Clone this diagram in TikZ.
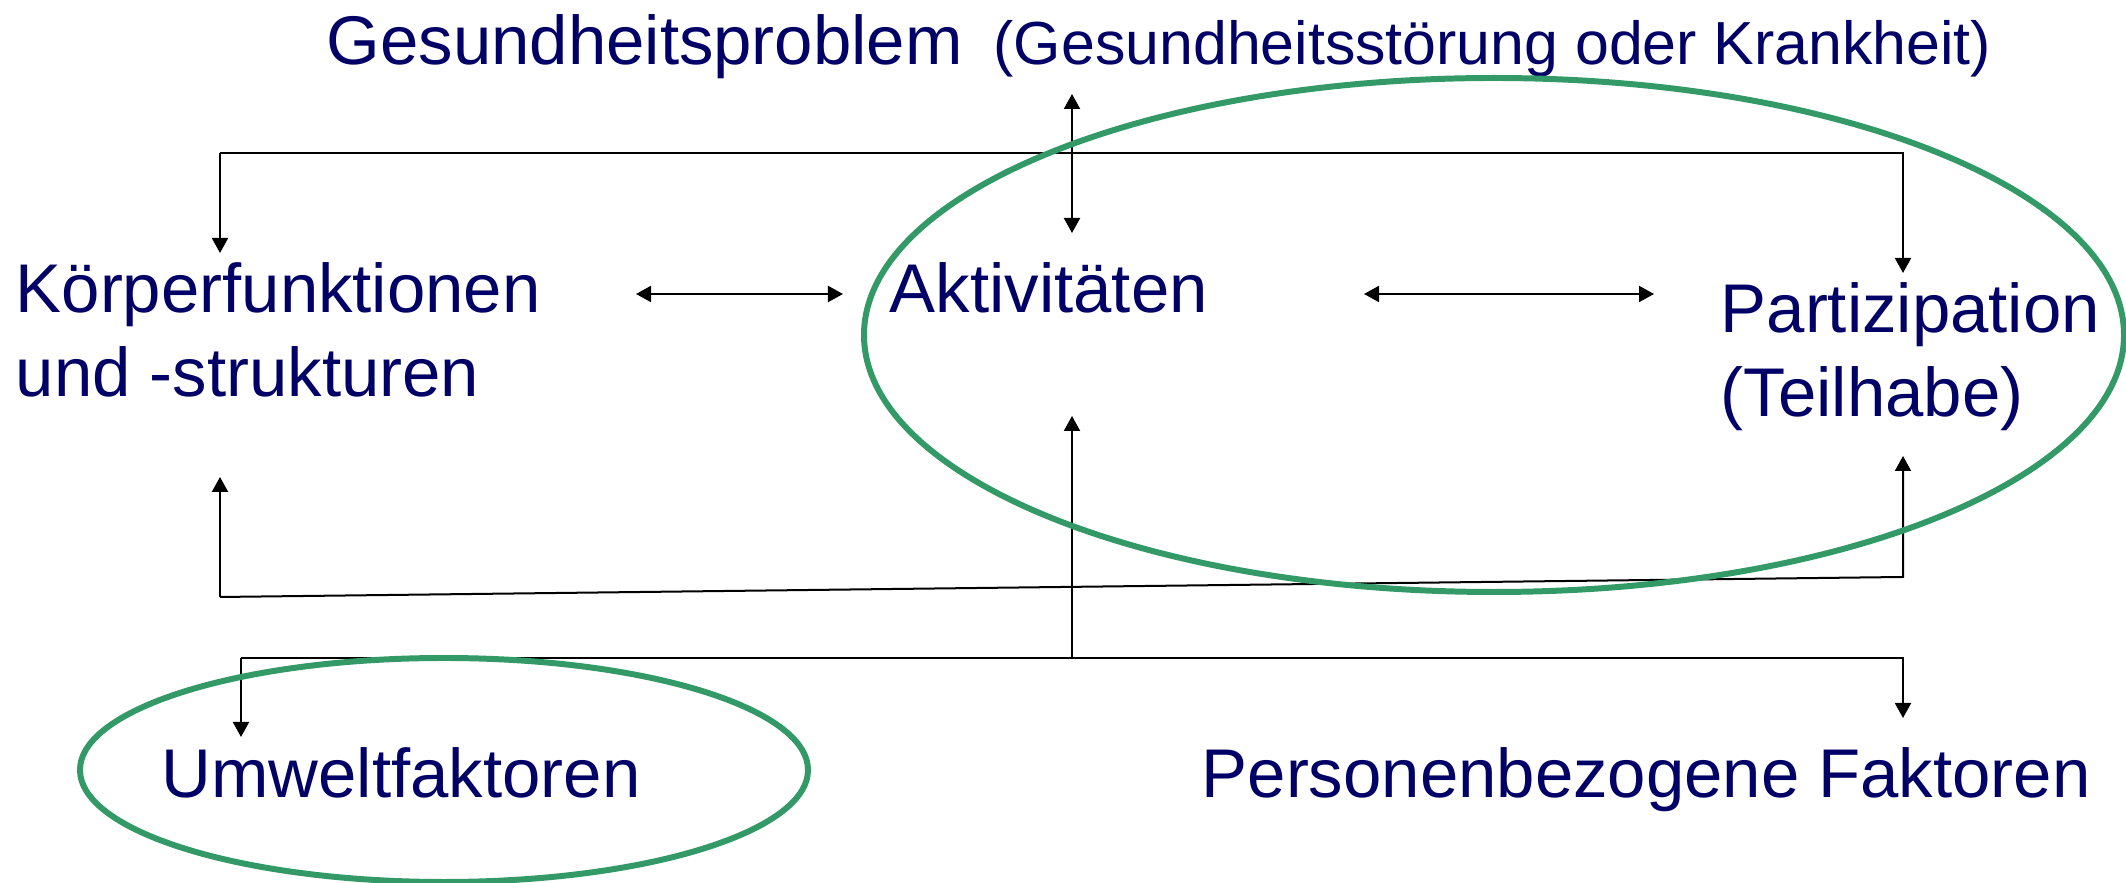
\documentclass[tikz,border=0pt]{standalone}
\usepackage{fontspec}
\setmainfont{Liberation Sans}
\usetikzlibrary{arrows.meta}
\definecolor{icfnavy}{HTML}{000066}
\definecolor{icfgreen}{HTML}{339966}
\newcommand{\smallfont}{\fontsize{17.3}{21}\selectfont}

\begin{document}
\begin{tikzpicture}[x=0.01cm, y=0.01cm, >={Triangle[length=0.15cm, width=0.16cm]},
    lbl/.style={font=\fontsize{19.6}{23.9}\selectfont, text=icfnavy, inner sep=0pt, anchor=base west, align=left},
    conn/.style={line width=0.57pt},
    ring/.style={draw=icfgreen, line width=1.7pt}]
    \useasboundingbox (0,0) rectangle (2126,-883);
    % Components
    \node[lbl] (gp) at (326,-65) {Gesundheitsproblem\hspace{0.31cm}{\smallfont (Gesundheitsstörung oder Krankheit)}};
    \node[lbl] (koerper) at (15,-397) {Körperfunktionen\\und -strukturen};
    \node[lbl] (akt) at (889,-313) {Aktivitäten};
    \node[lbl] (part) at (1720,-417) {Partizipation\\(Teilhabe)};
    \node[lbl] (umwelt) at (161,-798) {Umweltfaktoren};
    \node[lbl] (person) at (1201,-798) {Personenbezogene Faktoren};
    % Arrow ends
    \coordinate (gp-s) at (1072,-94);
    \coordinate (akt-n) at (1072,-233);
    \coordinate (akt-s) at (1072,-416);
    \coordinate (kf-n) at (220,-253);
    \coordinate (kf-s) at (220,-477);
    \coordinate (pt-n) at (1903,-273);
    \coordinate (pt-s) at (1903,-456);
    \coordinate (kf-e) at (636,-294);
    \coordinate (akt-w) at (843,-294);
    \coordinate (akt-e) at (1364,-294);
    \coordinate (pt-w) at (1654,-294);
    \coordinate (uw-n) at (241,-737);
    \coordinate (pf-n) at (1903,-718);
    % Interactions
    \draw[conn,<->] (gp-s) -- (akt-n);
    \draw[conn,->] (kf-n |- 0,-153) -- (kf-n);
    \draw[conn,->] (kf-n |- 0,-153) -- (pt-n |- 0,-153) -- (pt-n);
    \draw[conn,<->] (kf-e) -- (akt-w);
    \draw[conn,<->] (akt-e) -- (pt-w);
    \draw[conn,->] (kf-s |- 0,-597) -- (kf-s);
    \draw[conn,->] (kf-s |- 0,-597) -- (pt-s |- 0,-577) -- (pt-s);
    \draw[conn,->] (akt-s |- 0,-658) -- (akt-s);
    \draw[conn,->] (uw-n |- 0,-658) -- (uw-n);
    \draw[conn,->] (uw-n |- 0,-658) -- (pf-n |- 0,-658) -- (pf-n);
    % Highlights
    \draw[ring] (1494,-335) ellipse [x radius=630, y radius=257];
    \draw[ring] (444,-770) ellipse [x radius=364, y radius=112];
\end{tikzpicture}
\end{document}
